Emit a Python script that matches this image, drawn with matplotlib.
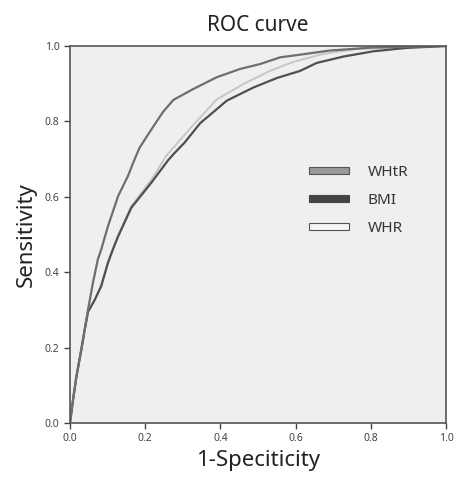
import matplotlib
matplotlib.use("Agg")
import matplotlib.pyplot as plt
from matplotlib.patches import Patch

# ROC points (1-specificity, sensitivity)
whtr_fpr = [0.0, 0.008, 0.017, 0.030, 0.039, 0.048, 0.061, 0.074, 0.083, 0.101,
            0.128, 0.154, 0.172, 0.185, 0.212, 0.248, 0.275, 0.328, 0.390, 0.452,
            0.505, 0.559, 0.612, 0.691, 0.807, 1.0]
whtr_tpr = [0.0, 0.061, 0.123, 0.194, 0.247, 0.301, 0.372, 0.434, 0.460, 0.522,
            0.602, 0.655, 0.700, 0.730, 0.772, 0.826, 0.857, 0.886, 0.917, 0.939,
            0.952, 0.970, 0.977, 0.988, 0.996, 1.0]

bmi_fpr = [0.0, 0.008, 0.017, 0.030, 0.039, 0.048, 0.066, 0.083, 0.101, 0.114,
           0.128, 0.163, 0.216, 0.261, 0.275, 0.305, 0.346, 0.417, 0.488, 0.550,
           0.612, 0.656, 0.727, 0.807, 0.896, 1.0]
bmi_tpr = [0.0, 0.061, 0.123, 0.194, 0.247, 0.295, 0.327, 0.363, 0.425, 0.460,
           0.495, 0.571, 0.637, 0.697, 0.713, 0.744, 0.795, 0.855, 0.890, 0.915,
           0.934, 0.955, 0.972, 0.986, 0.995, 1.0]

whr_fpr = [0.0, 0.008, 0.017, 0.030, 0.039, 0.048, 0.066, 0.083, 0.101, 0.114,
           0.128, 0.163, 0.216, 0.234, 0.257, 0.323, 0.390, 0.461, 0.532, 0.594,
           0.673, 0.762, 0.896, 1.0]
whr_tpr = [0.0, 0.061, 0.123, 0.194, 0.247, 0.295, 0.327, 0.365, 0.428, 0.463,
           0.498, 0.575, 0.645, 0.673, 0.710, 0.785, 0.858, 0.899, 0.934, 0.958,
           0.979, 0.992, 0.997, 1.0]

ticks = [0.0, 0.2, 0.4, 0.6, 0.8, 1.0]
tick_labels = ["0.0", "0.2", "0.4", "0.6", "0.8", "1.0"]

plt.rcParams["font.family"] = ["Noto Sans", "DejaVu Sans"]

fig = plt.figure(figsize=(4.54, 4.8), dpi=100)
fig.patch.set_facecolor("white")
ax = fig.add_axes([70 / 454, 57 / 480, 376 / 454, 377 / 480])
ax.set_facecolor("#efefef")

ax.plot(whr_fpr, whr_tpr, color="#c6c6c6", lw=1.4)
ax.plot(bmi_fpr, bmi_tpr, color="#4f4f4f", lw=1.6)
ax.plot(whtr_fpr, whtr_tpr, color="#6e6e6e", lw=1.6)

ax.set_xlim(0, 1)
ax.set_ylim(0, 1)
ax.set_xticks(ticks)
ax.set_xticklabels(tick_labels)
ax.set_yticks(ticks)
ax.set_yticklabels(tick_labels)
ax.tick_params(labelsize=7.5, colors="#444444", length=4, width=1)
for s in ax.spines.values():
    s.set_color("#555555")
    s.set_linewidth(1.2)

ax.set_title("ROC curve", fontsize=15, color="#222222", pad=11)
ax.set_xlabel("1-Speciticity", fontsize=16, color="#222222", labelpad=4)
ax.set_ylabel("Sensitivity", fontsize=16, color="#222222", labelpad=6)

handles = [
    Patch(facecolor="#999999", edgecolor="#555555", lw=0.8, label="WHtR"),
    Patch(facecolor="#444444", edgecolor="#444444", lw=0.8, label="BMI"),
    Patch(facecolor="#f5f5f5", edgecolor="#555555", lw=0.8, label="WHR"),
]
leg = ax.legend(handles=handles, frameon=False, fontsize=11, loc="center left",
                bbox_to_anchor=(0.60, 0.59), handlelength=2.6, handleheight=0.4,
                handletextpad=1.2, labelspacing=0.85)
for t in leg.get_texts():
    t.set_color("#333333")

fig.savefig("out.png", dpi=100)
